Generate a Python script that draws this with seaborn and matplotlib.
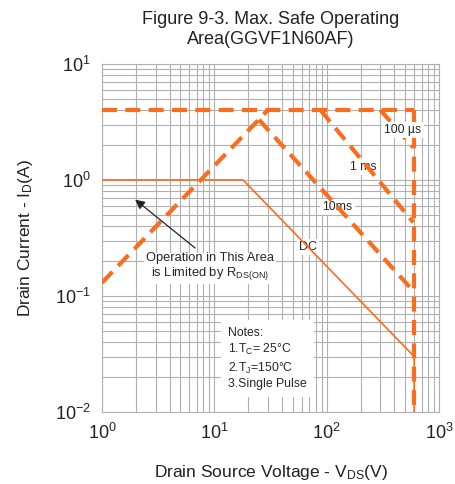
import numpy as np
import pandas as pd
import matplotlib
matplotlib.use('Agg')
import matplotlib.pyplot as plt
import seaborn as sns

# curve data (V_DS in volts, I_D in amps)
rds_v = [1, 30]
rds_i = [0.13, 4]
top_v = [1, 600]
top_i = [4, 4]
vmax_v = [600, 600]
vmax_i = [4, 0.01]
us100_v = [300, 590]
us100_i = [4, 1.9]
ms1_v = [88, 590]
ms1_i = [4, 0.43]
ms10_v = [25, 590]
ms10_i = [3.3, 0.11]
dc_v = [1, 18, 600, 600]
dc_i = [1, 1, 0.03, 0.01]

orange = '#fb6c1c'

sns.set_style('whitegrid')
plt.rcParams['font.family'] = ['Liberation Sans', 'DejaVu Sans']
plt.rcParams['mathtext.fontset'] = 'custom'
plt.rcParams['mathtext.rm'] = 'Liberation Sans'
plt.rcParams['mathtext.it'] = 'Liberation Sans'

fig = plt.figure(figsize=(4.55, 4.84), dpi=100)
ax = fig.add_axes([0.224, 0.149, 0.741, 0.719])

# thick dashed limit lines
thick = [(rds_v, rds_i), (top_v, top_i), (vmax_v, vmax_i),
         (us100_v, us100_i), (ms1_v, ms1_i), (ms10_v, ms10_i)]
for v, i in thick:
    df = pd.DataFrame({'V': v, 'I': i})
    sns.lineplot(data=df, x='V', y='I', ax=ax, color=orange, lw=3,
                 sort=False, estimator=None, zorder=4)
for line in ax.lines:
    line.set_dashes((3.6, 2.0))
    line.set_dash_capstyle('butt')

dc = pd.DataFrame({'V': dc_v, 'I': dc_i})
sns.lineplot(data=dc, x='V', y='I', ax=ax, color=orange, lw=1.2,
             sort=False, estimator=None, zorder=4)

ax.set_xscale('log')
ax.set_yscale('log')
ax.set_xlim(1, 1000)
ax.set_ylim(0.01, 10)

ax.grid(True, which='both', color='#b0b0b0', lw=0.8)
ax.tick_params(which='both', length=0, labelsize=13, colors='#222222', pad=8)
for s in ax.spines.values():
    s.set_color('#b0b0b0')
    s.set_linewidth(0.8)

ax.set_xlabel('Drain Source Voltage - V$_{DS}$(V)', fontsize=12.5, labelpad=14,
              color='#222222')
ax.set_ylabel('Drain Current - I$_D$(A)', fontsize=12.5, labelpad=14,
              color='#222222')
ax.set_title('Figure 9-3. Max. Safe Operating\nArea(GGVF1N60AF)', fontsize=13,
             pad=14, color='#222222', linespacing=1.25)

box = dict(facecolor='white', edgecolor='none', pad=1.5)
ax.text(477, 2.7, '100 µs', fontsize=8.8, ha='center', va='center', bbox=box, zorder=5)
ax.text(210, 1.29, '1 ms', fontsize=8.8, ha='center', va='center', bbox=box, zorder=3)
ax.text(125, 0.585, '10ms', fontsize=8.8, ha='center', va='center', bbox=box, zorder=3)
ax.text(68, 0.264, 'DC', fontsize=9, ha='center', va='center', bbox=box, zorder=3)
ax.text(9.2, 0.178, 'Operation in This Area\nis Limited by R$_{DS(ON)}$', fontsize=9.3,
        ha='center', va='center', bbox=box, zorder=3, linespacing=1.1)
ax.annotate('', xy=(1.89, 0.70), xytext=(7.05, 0.25),
            arrowprops=dict(arrowstyle='-|>', color='#222222', lw=0.9,
                            mutation_scale=14), zorder=5)
ax.text(13.3, 0.054, 'Notes:\n1.T$_C$= 25°C\n2.T$_J$=150°C\n3.Single Pulse',
        fontsize=8.8, ha='left', va='top', linespacing=1.3, zorder=3,
        bbox=dict(facecolor='white', edgecolor='none', pad=5))

plt.savefig('out.png', dpi=100)
